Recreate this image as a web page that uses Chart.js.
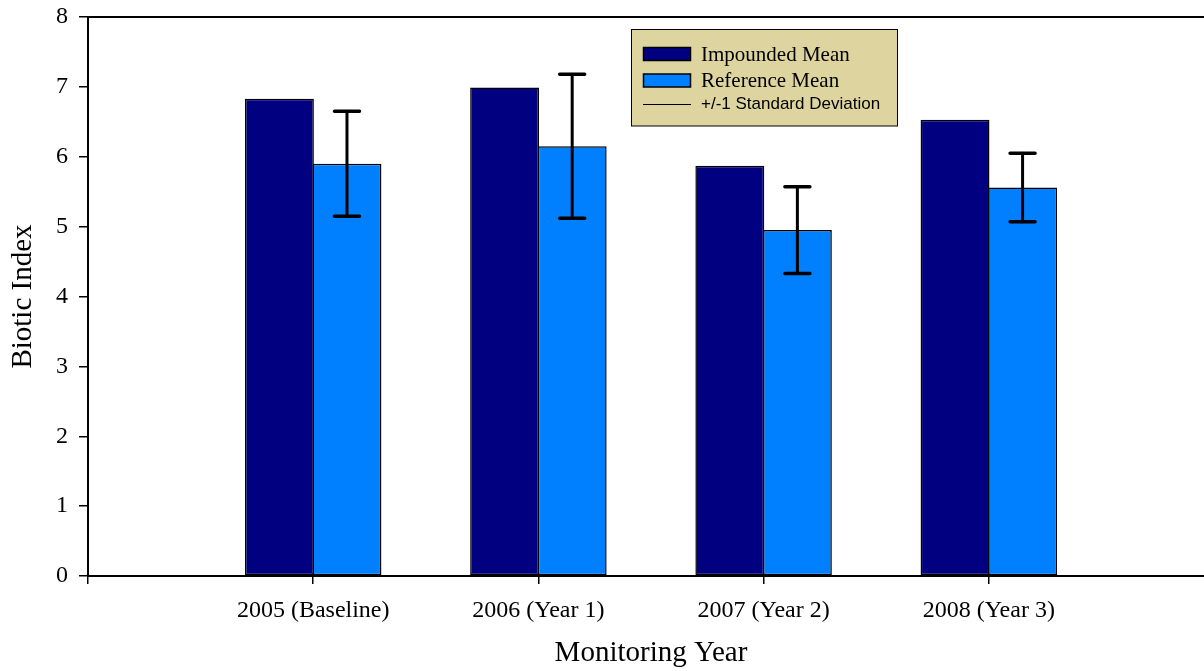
<!DOCTYPE html>
<html>
<head>
<meta charset="utf-8">
<script src="https://cdn.jsdelivr.net/npm/chart.js@4.4.1/dist/chart.umd.min.js"></script>
<style>
  html, body { margin: 0; padding: 0; background: #fff; overflow: hidden; }
  #wrap { width: 1214px; height: 671px; }
</style>
</head>
<body>
<div id="wrap"><canvas id="bioChart" width="1214" height="671"></canvas></div>
<script>
// values
const categories = ['2005 (Baseline)', '2006 (Year 1)', '2007 (Year 2)', '2008 (Year 3)'];
const years = [2005, 2006, 2007, 2008];
const impoundedMean = [6.83, 6.99, 5.87, 6.53];
const referenceMean = [5.90, 6.15, 4.95, 5.56];
const referenceSD = [0.75, 1.03, 0.62, 0.49];
const legendLabels = ['Impounded Mean', 'Reference Mean', '+/-1 Standard Deviation'];

const serif = "'Liberation Serif', 'Times New Roman', serif";
const sans = "'Liberation Sans', Arial, sans-serif";

function toPoints(vals) {
    return years.map((yr, i) => ({ x: yr, y: vals[i] }));
}

// error bars on the reference bars
const errorBars = {
    id: 'errorBars',
    afterDatasetsDraw(chart) {
        const ctx = chart.ctx;
        const yScale = chart.scales.y;
        const meta = chart.getDatasetMeta(1);
        ctx.save();
        ctx.strokeStyle = '#000';
        ctx.lineCap = 'round';
        for (let i = 0; i < referenceMean.length; i++) {
            const x = meta.data[i].x;
            const top = yScale.getPixelForValue(referenceMean[i] + referenceSD[i]);
            const bot = yScale.getPixelForValue(referenceMean[i] - referenceSD[i]);
            ctx.lineWidth = 3;
            ctx.beginPath();
            ctx.moveTo(x, top);
            ctx.lineTo(x, bot);
            ctx.stroke();
            ctx.lineWidth = 3.5;
            ctx.beginPath();
            ctx.moveTo(x - 12.5, top);
            ctx.lineTo(x + 12.5, top);
            ctx.moveTo(x - 12.5, bot);
            ctx.lineTo(x + 12.5, bot);
            ctx.stroke();
        }
        ctx.restore();
    }
};

// top frame line and the boxed legend
const frameAndLegend = {
    id: 'frameAndLegend',
    afterDraw(chart) {
        const ctx = chart.ctx;
        const area = chart.chartArea;
        ctx.save();
        ctx.strokeStyle = '#000';
        ctx.lineWidth = 2;
        ctx.beginPath();
        ctx.moveTo(area.left - 1, area.top);
        ctx.lineTo(area.right, area.top);
        ctx.stroke();

        // legend box
        const bx = 631.5, by = 29.5, bw = 266, bh = 96.5;
        ctx.fillStyle = '#ddd4a0';
        ctx.fillRect(bx, by, bw, bh);
        ctx.lineWidth = 1;
        ctx.strokeRect(bx, by, bw, bh);

        const colors = [chart.data.datasets[0].backgroundColor, chart.data.datasets[1].backgroundColor];
        const rows = [54, 80.5];
        ctx.lineWidth = 1.5;
        for (let i = 0; i < 2; i++) {
            ctx.fillStyle = colors[i];
            ctx.fillRect(643.5, rows[i] - 6.5, 47, 13);
            ctx.strokeRect(643.5, rows[i] - 6.5, 47, 13);
        }
        ctx.lineWidth = 1;
        ctx.beginPath();
        ctx.moveTo(643, 104.5);
        ctx.lineTo(691, 104.5);
        ctx.stroke();

        ctx.fillStyle = '#000';
        ctx.textBaseline = 'middle';
        ctx.textAlign = 'left';
        ctx.font = '21px ' + serif;
        ctx.fillText(legendLabels[0], 701, rows[0] + 1);
        ctx.fillText(legendLabels[1], 701, rows[1] + 1);
        ctx.font = '17px ' + sans;
        ctx.fillText(legendLabels[2], 701, 104);
        ctx.restore();
    }
};

const chart = new Chart(document.getElementById('bioChart'), {
    type: 'bar',
    data: {
        datasets: [
            {
                label: legendLabels[0],
                data: toPoints(impoundedMean),
                backgroundColor: '#000080',
                borderColor: '#000',
                borderWidth: 1.5,
                borderSkipped: false
            },
            {
                label: legendLabels[1],
                data: toPoints(referenceMean),
                backgroundColor: '#0080ff',
                borderColor: '#000',
                borderWidth: 1.5,
                borderSkipped: false
            }
        ]
    },
    options: {
        responsive: false,
        animation: false,
        devicePixelRatio: 1,
        categoryPercentage: 0.6,
        barPercentage: 1.02,
        layout: { padding: { top: 17, right: 0, bottom: 0, left: 0 } },
        plugins: {
            legend: { display: false },
            tooltip: { enabled: false }
        },
        scales: {
            x: {
                type: 'linear',
                min: 2004,
                max: 2009,
                offset: false,
                afterBuildTicks(scale) {
                    scale.ticks = [2004].concat(years).map(v => ({ value: v }));
                },
                afterFit(scale) { scale.height = 95; },
                grid: { offset: false, drawOnChartArea: false, color: '#000', lineWidth: 1.5, tickLength: 8 },
                border: { color: '#000', width: 2 },
                ticks: {
                    color: '#000',
                    padding: 12,
                    maxRotation: 0,
                    autoSkip: false,
                    font: { family: serif, size: 24 },
                    callback(value) {
                        const i = years.indexOf(value);
                        return i >= 0 ? categories[i] : '';
                    }
                },
                title: {
                    display: true,
                    text: 'Monitoring Year',
                    color: '#000',
                    padding: { top: 0, bottom: 0 },
                    font: { family: serif, size: 29 }
                }
            },
            y: {
                min: 0,
                max: 8,
                afterFit(scale) {
                    scale.width = 88;
                    scale.paddingTop = 0;
                    scale.paddingBottom = 0;
                },
                grid: { drawOnChartArea: false, color: '#000', lineWidth: 1.5, tickLength: 9 },
                border: { color: '#000', width: 2 },
                ticks: {
                    stepSize: 1,
                    color: '#000',
                    padding: 11,
                    font: { family: serif, size: 24 }
                },
                title: {
                    display: true,
                    text: 'Biotic Index',
                    color: '#000',
                    padding: { top: 6, bottom: 0 },
                    font: { family: serif, size: 29 }
                }
            }
        }
    },
    plugins: [errorBars, frameAndLegend]
});
</script>
</body>
</html>
